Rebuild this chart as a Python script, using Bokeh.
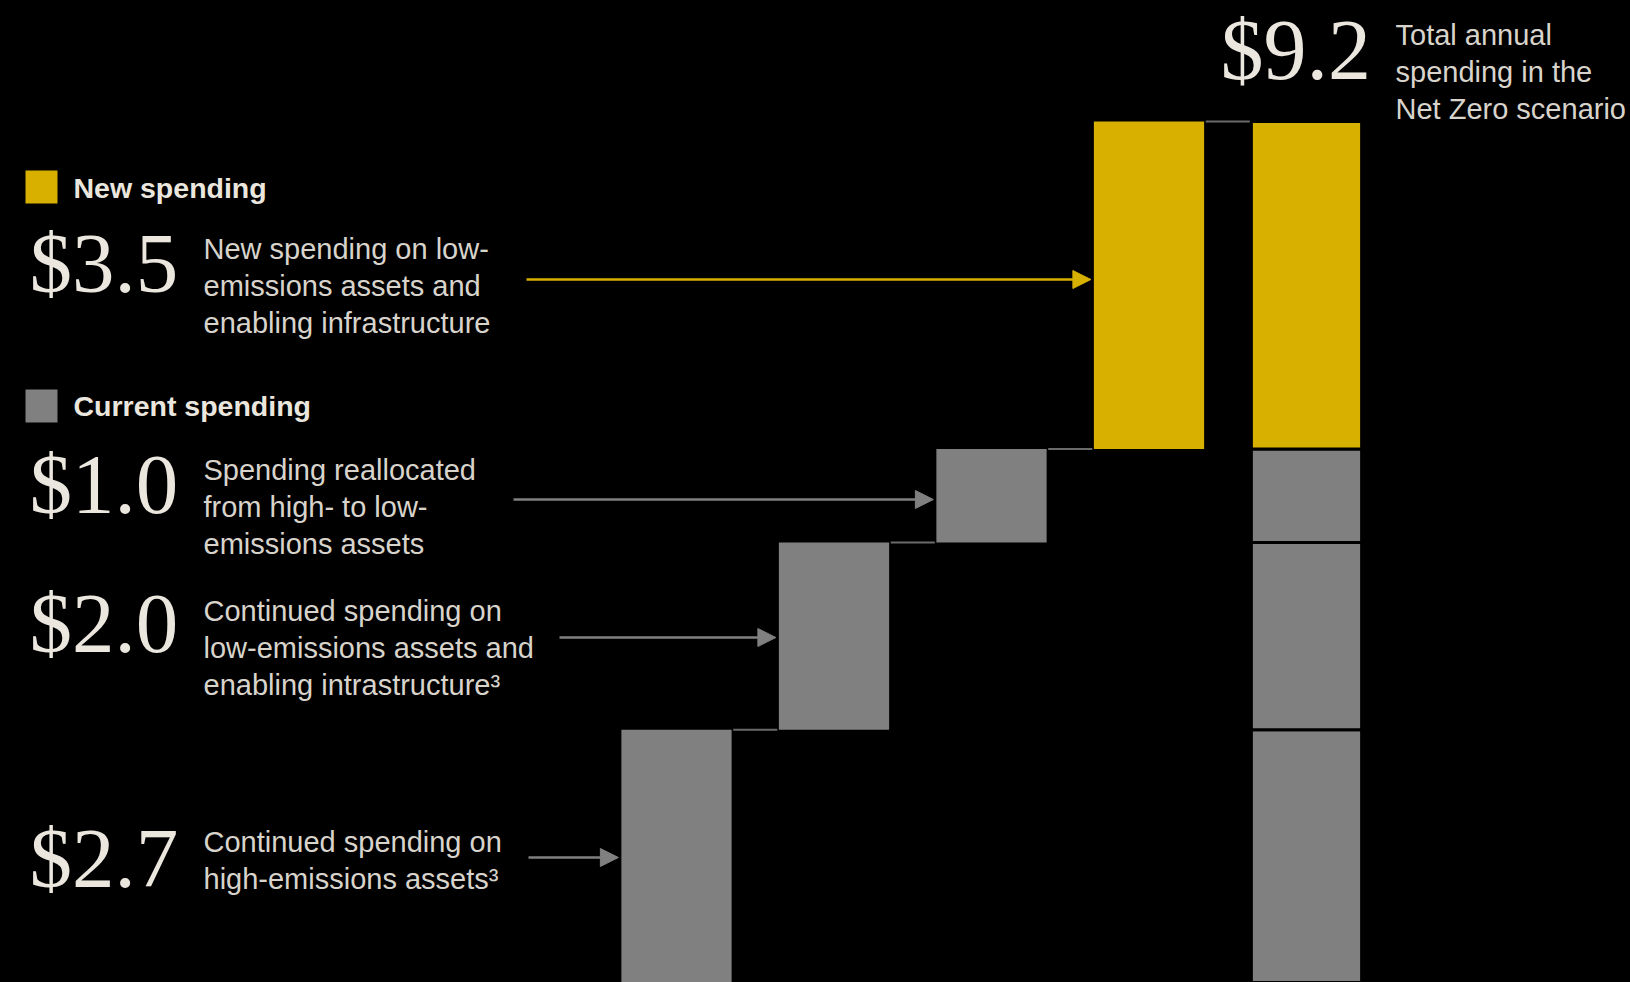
from bokeh.plotting import figure
from bokeh.models import Range1d, Arrow, NormalHead, ColumnDataSource, GlobalInlineStyleSheet
from bokeh.core.properties import value
from bokeh.embed import file_html
from bokeh.resources import INLINE

# ---------------- data ----------------
step_names = ["High-emissions continued", "Low-emissions continued", "Reallocated", "New spending"]
step_values = [2.7, 2.0, 1.0, 3.5]
step_kinds = ["current", "current", "current", "new"]
total_value = 9.2
value_labels = ["$2.7", "$2.0", "$1.0", "$3.5"]
total_label = "$9.2"
descriptions = [
    ["Continued spending on", "high-emissions assets\u00b3"],
    ["Continued spending on", "low-emissions assets and", "enabling intrastructure\u00b3"],
    ["Spending reallocated", "from high- to low-", "emissions assets"],
    ["New spending on low-", "emissions assets and", "enabling infrastructure"],
]
total_description = ["Total annual", "spending in the", "Net Zero scenario"]
legend_labels = ["New spending", "Current spending"]

# ---------------- style / layout ----------------
YELLOW = "#D8B000"
GRAY = "#808080"
CONNECT = "#6a6a6a"
WHITE = "#ebe7df"
TEXT = "#d8d4cc"
W, H = 1630, 982
OFF = 0               # page offset of the figure
PX_UNIT = 93.6        # pixels per value unit
X0, DX = 676, 157.5   # page x of first bar centre, bar spacing
BAR_W = 0.70
BASELINE_FIX = 0.37   # renderer places alphabetic baseline ~0.37em low

def px2x(X):  # page pixel -> data x
    return (X - X0) / DX

def px2y(Y):  # page pixel (from top) -> data y
    return (982 - Y) / PX_UNIT

p = figure(width=W, height=H, output_backend="svg", toolbar_location=None,
           x_range=Range1d(px2x(OFF), px2x(OFF + W)), y_range=Range1d(px2y(OFF + H), px2y(OFF)),
           background_fill_color="black", border_fill_color="black",
           min_border=0, outline_line_color=None)
p.axis.visible = False
p.grid.visible = False
p.stylesheets = [GlobalInlineStyleSheet(css="html, body { background: #000000; overflow: hidden; }")]

# waterfall steps
bottoms, tops = [], []
acc = 0.0
for v in step_values:
    bottoms.append(acc)
    acc += v
    tops.append(acc)
xs = list(range(len(step_values)))
colors = [YELLOW if k == "new" else GRAY for k in step_kinds]
src = ColumnDataSource(dict(x=xs, top=tops, bottom=bottoms, color=colors))
p.vbar(x="x", top="top", bottom="bottom", width=BAR_W, fill_color="color",
       line_color=None, source=src)

# total stacked bar
tx = len(step_values)
tsrc = ColumnDataSource(dict(x=[tx] * len(step_values), top=tops, bottom=bottoms, color=colors))
p.vbar(x="x", top="top", bottom="bottom", width=BAR_W, fill_color="color",
       line_color="black", line_width=3, source=tsrc)

# connectors
for i in range(len(step_values)):
    p.segment(x0=[i + BAR_W / 2 + 0.01], x1=[i + 1 - BAR_W / 2 - 0.01],
              y0=[tops[i]], y1=[tops[i]], line_color=CONNECT, line_width=2)

# arrows (start x / y read from the layout)
arrow_start_px = [528, 559, 513, 526]
arrow_y_px = [857, 637, 499, 279]
for i in range(len(step_values)):
    col = YELLOW if step_kinds[i] == "new" else GRAY
    p.add_layout(Arrow(end=NormalHead(size=18, fill_color=col, line_color=col),
                       x_start=px2x(arrow_start_px[i]), y_start=px2y(arrow_y_px[i]),
                       x_end=i - BAR_W / 2 - 3 / DX, y_end=px2y(arrow_y_px[i]),
                       line_color=col, line_width=2.5))

def put_text(X, Y, txt, font, size, color, style="normal"):
    Yc = Y - BASELINE_FIX * size
    p.text(x=[px2x(X)], y=[px2y(Yc)], text=[txt], text_font=value(font),
           text_font_size=f"{size}px", text_color=color, text_font_style=style,
           text_baseline="alphabetic", text_align="left")

# value labels and descriptions
num_baseline_px = [889, 654, 515, 294]
desc_first_px = [852, 621, 480, 259]
LINE_H = 37
for i in range(len(step_values)):
    put_text(29, num_baseline_px[i], value_labels[i], "Liberation Serif", 85, WHITE)
    for j, line in enumerate(descriptions[i]):
        put_text(203, desc_first_px[i] + j * LINE_H, line, "Liberation Sans", 29, TEXT)

put_text(1220, 81, total_label, "Liberation Serif", 86, WHITE)
for j, line in enumerate(total_description):
    put_text(1395, 45 + j * LINE_H, line, "Liberation Sans", 29, TEXT)

# legend
leg_colors = [YELLOW, GRAY]
leg_top_px = [170, 389]
leg_base_px = [198, 416]
for k in range(2):
    p.quad(left=[px2x(25)], right=[px2x(57)], top=[px2y(leg_top_px[k])],
           bottom=[px2y(leg_top_px[k] + 33)], fill_color=leg_colors[k], line_color=None)
    put_text(73, leg_base_px[k], legend_labels[k], "Liberation Sans", 28.5, WHITE, "bold")

open("out.html", "w").write(file_html(p, INLINE))
